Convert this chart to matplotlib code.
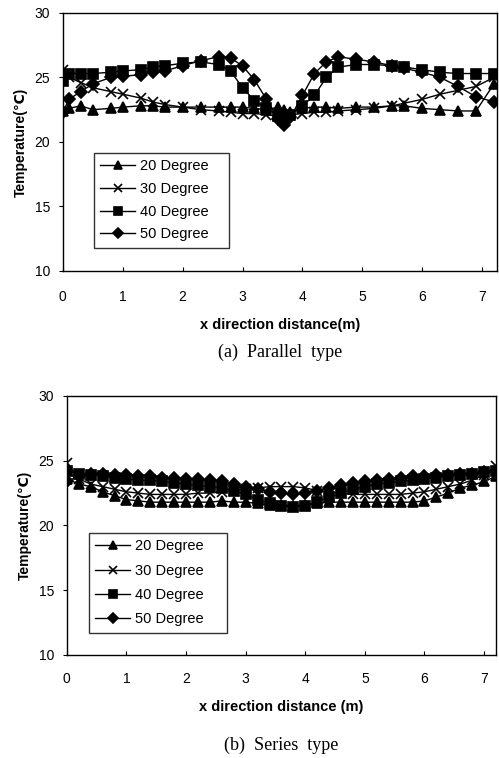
import matplotlib
matplotlib.use('Agg')
import matplotlib.pyplot as plt

plt.rcParams['font.family'] = ['Liberation Sans', 'DejaVu Sans']

# (a) Parallel type
x_par = [0, 0.1, 0.3, 0.5, 0.8, 1.0, 1.3, 1.5, 1.7, 2.0, 2.3, 2.6, 2.8, 3.0, 3.2, 3.4,
         3.6, 3.7, 3.8, 4.0, 4.2, 4.4, 4.6, 4.9, 5.2, 5.5, 5.7, 6.0, 6.3, 6.6, 6.9, 7.2]
par_20 = [22.4, 22.6, 22.8, 22.5, 22.6, 22.7, 22.8, 22.8, 22.7, 22.7, 22.7, 22.7, 22.7, 22.7, 22.6, 22.5,
          22.7, 22.5, 22.3, 22.6, 22.7, 22.7, 22.6, 22.7, 22.7, 22.8, 22.8, 22.6, 22.5, 22.4, 22.4, 24.5]
par_30 = [25.6, 25.0, 24.6, 24.2, 23.9, 23.7, 23.4, 23.1, 22.9, 22.7, 22.5, 22.4, 22.3, 22.2, 22.2, 22.1,
          22.0, 22.0, 22.1, 22.2, 22.3, 22.3, 22.4, 22.5, 22.6, 22.8, 23.0, 23.3, 23.7, 24.0, 24.3, 25.0]
par_40 = [24.7, 25.3, 25.3, 25.3, 25.4, 25.5, 25.6, 25.8, 25.9, 26.1, 26.2, 26.0, 25.5, 24.2, 23.2, 22.6,
          22.0, 21.8, 22.1, 22.8, 23.6, 25.0, 25.8, 26.0, 26.0, 25.9, 25.8, 25.6, 25.4, 25.3, 25.3, 25.3]
par_50 = [22.3, 23.3, 23.9, 24.5, 25.0, 25.1, 25.2, 25.4, 25.5, 25.9, 26.3, 26.6, 26.5, 25.9, 24.8, 23.3,
          21.8, 21.3, 21.9, 23.6, 25.3, 26.2, 26.6, 26.4, 26.2, 25.9, 25.7, 25.4, 25.0, 24.3, 23.5, 23.1]

# (b) Series type
x_ser = [0, 0.2, 0.4, 0.6, 0.8, 1.0, 1.2, 1.4, 1.6, 1.8, 2.0, 2.2, 2.4, 2.6, 2.8, 3.0, 3.2, 3.4, 3.6,
         3.8, 4.0, 4.2, 4.4, 4.6, 4.8, 5.0, 5.2, 5.4, 5.6, 5.8, 6.0, 6.2, 6.4, 6.6, 6.8, 7.0, 7.2]
ser_20 = [23.6, 23.2, 23.0, 22.6, 22.3, 22.0, 21.9, 21.8, 21.8, 21.8, 21.8, 21.8, 21.8, 21.9, 21.8, 21.8, 21.7, 21.6, 21.6,
          21.5, 21.6, 21.7, 21.8, 21.8, 21.8, 21.8, 21.8, 21.8, 21.8, 21.8, 21.9, 22.2, 22.5, 22.9, 23.1, 23.4, 23.8]
ser_30 = [24.8, 23.6, 23.2, 23.0, 22.8, 22.6, 22.5, 22.4, 22.4, 22.4, 22.4, 22.5, 22.5, 22.6, 22.7, 22.8, 22.9, 23.0, 23.0,
          23.0, 22.9, 22.7, 22.6, 22.5, 22.4, 22.4, 22.4, 22.4, 22.4, 22.5, 22.6, 22.8, 23.0, 23.2, 23.5, 23.9, 24.6]
ser_40 = [24.2, 24.0, 23.9, 23.8, 23.7, 23.6, 23.5, 23.5, 23.4, 23.3, 23.2, 23.1, 23.0, 22.9, 22.7, 22.4, 22.0, 21.7, 21.5,
          21.4, 21.5, 21.8, 22.2, 22.5, 22.8, 23.0, 23.2, 23.3, 23.4, 23.5, 23.6, 23.7, 23.8, 23.9, 24.0, 24.1, 24.2]
ser_50 = [23.4, 23.8, 24.0, 24.0, 23.9, 23.9, 23.8, 23.8, 23.7, 23.7, 23.6, 23.6, 23.5, 23.4, 23.2, 23.0, 22.8, 22.6, 22.5,
          22.4, 22.5, 22.7, 22.9, 23.1, 23.3, 23.4, 23.5, 23.6, 23.7, 23.8, 23.8, 23.9, 23.9, 24.0, 24.0, 24.1, 24.2]

labels = ['20 Degree', '30 Degree', '40 Degree', '50 Degree']
markers = ['^', 'x', 's', 'D']
msizes = [7.5, 7.5, 7.5, 6.5]
xticks = [0, 1, 2, 3, 4, 5, 6, 7]
yticks = [10, 15, 20, 25, 30]


def draw(ax, x, series, xmax, xlabel, caption, leg_box, tpad, lspace):
	for y, lab, m, ms in zip(series, labels, markers, msizes):
		ax.plot(x, y, color='black', lw=1.0, marker=m, ms=ms, mew=1.2, label=lab)
	ax.set_xlim(0, xmax)
	ax.set_ylim(10, 30)
	ax.set_xticks(xticks)
	ax.set_yticks(yticks)
	ax.tick_params(axis='x', direction='in', length=3, labelsize=10, pad=tpad)
	ax.tick_params(axis='y', direction='out', length=3, labelsize=10, pad=6)
	ax.set_xlabel(xlabel, fontsize=10.5, fontweight='bold', labelpad=10)
	ax.set_ylabel('Temperature(\u2103)', fontsize=10, fontweight='bold', labelpad=5)
	for s in ax.spines.values():
		s.set_linewidth(1.0)
	leg = ax.legend(loc='lower left', bbox_to_anchor=leg_box, mode='expand', fancybox=False,
			edgecolor='black', fontsize=10.5, handlelength=2.4, labelspacing=lspace,
			borderaxespad=0, handletextpad=0.3, borderpad=0.45, markerscale=0.8)
	leg.get_frame().set_linewidth(1.0)
	ax.text(0.5, caption[1], caption[0], transform=ax.transAxes, ha='center', va='center',
		fontsize=13, family=['Liberation Serif', 'DejaVu Serif'])


fig = plt.figure(figsize=(4.99, 7.58), dpi=100)
ax1 = fig.add_axes([0.126, 0.6425, 0.870, 0.3405])
ax2 = fig.add_axes([0.134, 0.1359, 0.860, 0.3417])

draw(ax1, x_par, [par_20, par_30, par_40, par_50], 7.25, 'x direction distance(m)',
	('(a)  Parallel  type', -0.315), (0.071, 0.089, 0.312, 0.388), 14, 0.6)
draw(ax2, x_ser, [ser_20, ser_30, ser_40, ser_50], 7.2, 'x direction distance (m)',
	('(b)  Series  type', -0.35), (0.051, 0.085, 0.321, 0.415), 12, 0.71)

fig.savefig('out.png', dpi=100)
